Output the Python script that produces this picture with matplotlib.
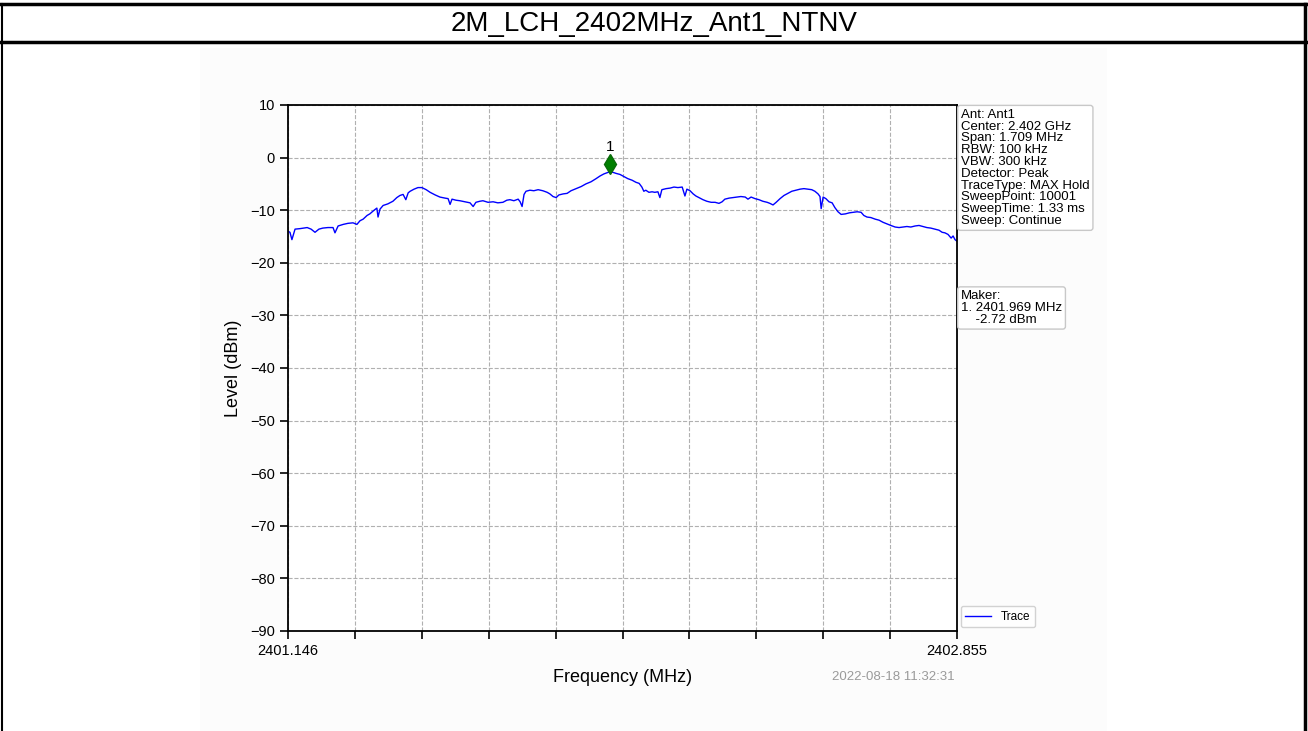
import matplotlib
matplotlib.use("Agg")
import matplotlib.pyplot as plt
import matplotlib.transforms as mtransforms
from matplotlib.patches import Rectangle
from matplotlib.lines import Line2D
import numpy as np

plt.rcParams['font.family'] = ['Liberation Sans', 'DejaVu Sans']

title = "2M_LCH_2402MHz_Ant1_NTNV"
f_start, f_stop = 2401.146, 2402.855

freq_mhz = [
    2401.146, 2401.151, 2401.156, 2401.164, 2401.177, 2401.195, 2401.205, 2401.215,
    2401.225, 2401.235, 2401.248, 2401.261, 2401.266, 2401.274, 2401.287, 2401.299,
    2401.312, 2401.322, 2401.330, 2401.338, 2401.348, 2401.355, 2401.366, 2401.373,
    2401.376, 2401.381, 2401.389, 2401.401, 2401.414, 2401.424, 2401.432, 2401.440,
    2401.447, 2401.453, 2401.458, 2401.468, 2401.478, 2401.488, 2401.499, 2401.509,
    2401.522, 2401.534, 2401.547, 2401.555, 2401.560, 2401.565, 2401.575, 2401.585,
    2401.598, 2401.611, 2401.619, 2401.626, 2401.636, 2401.644, 2401.657, 2401.670,
    2401.682, 2401.695, 2401.705, 2401.713, 2401.723, 2401.734, 2401.739, 2401.744,
    2401.749, 2401.754, 2401.764, 2401.774, 2401.785, 2401.797, 2401.808, 2401.815,
    2401.823, 2401.831, 2401.838, 2401.849, 2401.859, 2401.869, 2401.882, 2401.895,
    2401.907, 2401.920, 2401.933, 2401.943, 2401.953, 2401.964, 2401.969, 2401.976,
    2401.984, 2401.994, 2402.004, 2402.014, 2402.025, 2402.035, 2402.043, 2402.050,
    2402.055, 2402.060, 2402.068, 2402.076, 2402.083, 2402.091, 2402.096, 2402.101,
    2402.112, 2402.122, 2402.132, 2402.142, 2402.153, 2402.160, 2402.165, 2402.173,
    2402.181, 2402.188, 2402.198, 2402.206, 2402.216, 2402.227, 2402.237, 2402.247,
    2402.255, 2402.262, 2402.273, 2402.283, 2402.293, 2402.303, 2402.314, 2402.321,
    2402.329, 2402.339, 2402.349, 2402.359, 2402.370, 2402.377, 2402.385, 2402.393,
    2402.403, 2402.413, 2402.423, 2402.433, 2402.444, 2402.454, 2402.464, 2402.474,
    2402.484, 2402.492, 2402.500, 2402.505, 2402.508, 2402.513, 2402.520, 2402.528,
    2402.536, 2402.543, 2402.551, 2402.559, 2402.570, 2402.580, 2402.590, 2402.600,
    2402.610, 2402.617, 2402.625, 2402.635, 2402.646, 2402.656, 2402.666, 2402.676,
    2402.686, 2402.697, 2402.707, 2402.717, 2402.727, 2402.737, 2402.748, 2402.758,
    2402.768, 2402.778, 2402.788, 2402.799, 2402.809, 2402.817, 2402.824, 2402.832,
    2402.840, 2402.845, 2402.850, 2402.855,
]

level_dbm = [
    -14.0, -14.2, -15.6, -13.6, -13.5, -13.3, -13.6, -14.2,
    -13.6, -13.4, -13.3, -13.3, -14.3, -13.0, -12.7, -12.5,
    -12.4, -12.7, -12.0, -11.7, -11.0, -10.7, -10.0, -9.6,
    -11.3, -9.8, -9.1, -8.8, -8.3, -7.6, -7.2, -7.0,
    -8.0, -6.7, -6.4, -6.0, -5.7, -5.7, -6.1, -6.6,
    -7.1, -7.5, -7.7, -7.8, -8.9, -7.9, -8.1, -8.2,
    -8.4, -8.6, -9.3, -8.5, -8.3, -8.2, -8.5, -8.4,
    -8.6, -8.5, -8.1, -8.0, -8.2, -7.9, -8.4, -9.3,
    -7.0, -6.4, -6.2, -6.3, -6.1, -6.3, -6.6, -6.9,
    -7.4, -7.6, -7.1, -6.9, -6.8, -6.3, -5.9, -5.5,
    -5.0, -4.6, -4.0, -3.5, -3.1, -2.8, -2.72, -2.8,
    -3.0, -3.2, -3.6, -4.0, -4.3, -4.7, -4.9, -5.6,
    -6.4, -6.2, -6.6, -6.5, -6.6, -6.5, -7.6, -6.1,
    -5.9, -5.8, -5.6, -5.7, -5.6, -7.3, -6.0, -6.3,
    -6.9, -7.3, -7.7, -8.0, -8.3, -8.5, -8.5, -8.7,
    -8.4, -7.9, -7.7, -7.6, -7.5, -7.4, -7.5, -7.9,
    -7.5, -7.8, -8.0, -8.3, -8.5, -8.7, -9.0, -8.5,
    -7.8, -7.2, -6.8, -6.4, -6.2, -6.0, -5.9, -6.0,
    -6.1, -6.4, -6.9, -7.4, -9.7, -7.5, -7.8, -8.4,
    -8.6, -9.5, -10.3, -10.8, -10.7, -10.5, -10.4, -10.3,
    -10.4, -11.0, -11.3, -11.4, -11.7, -11.9, -12.3, -12.6,
    -12.9, -13.2, -13.3, -13.2, -13.1, -13.2, -13.0, -12.9,
    -13.1, -13.3, -13.4, -13.6, -13.8, -14.2, -14.3, -14.6,
    -15.3, -14.9, -15.6, -15.9,
]

marker_freq = 2401.969
marker_level = -2.72

info_lines = [
    "Ant: Ant1",
    "Center: 2.402 GHz",
    "Span: 1.709 MHz",
    "RBW: 100 kHz",
    "VBW: 300 kHz",
    "Detector: Peak",
    "TraceType: MAX Hold",
    "SweepPoint: 10001",
    "SweepTime: 1.33 ms",
    "Sweep: Continue",
]
marker_lines = ["Maker:", "1. 2401.969 MHz", "    -2.72 dBm"]
timestamp = "2022-08-18 11:32:31"

W, H = 1308, 731
fig = plt.figure(figsize=(W / 100, H / 100), dpi=100)
fig.patch.set_facecolor("white")


def fx(px):
    return px / W


def fy(py):
    return 1 - py / H


# report frame: title band, outer borders and the chart's panel
fig.add_artist(Rectangle((fx(200), 0), fx(1107) - fx(200), fy(48),
                         transform=fig.transFigure, facecolor="#fcfcfc",
                         edgecolor="none", zorder=0))
for y in (4, 42):
    fig.add_artist(Line2D([0, 1], [fy(y), fy(y)], transform=fig.transFigure,
                          color="black", lw=2.5))
fig.add_artist(Line2D([fx(1.5), fx(1.5)], [0, fy(4)], transform=fig.transFigure,
                      color="black", lw=1.5))
fig.add_artist(Line2D([fx(1305), fx(1305)], [0, fy(4)], transform=fig.transFigure,
                      color="black", lw=2.5))
fig.text(0.5, fy(24), title, ha="center", va="center", fontsize=20)

ax = fig.add_axes([fx(288), fy(631), fx(957) - fx(288), fy(105) - fy(631)])
ax.set_facecolor("white")
ax.plot(freq_mhz, level_dbm, color="blue", lw=1.0, label="Trace")

# peak marker drawn a few pixels above the trace point
offset = mtransforms.ScaledTranslation(0, 6 / 72, fig.dpi_scale_trans)
ax.plot([marker_freq], [marker_level], marker="d", color="green",
        markersize=10, markeredgecolor="#0a6a0a",
        transform=ax.transData + offset, zorder=5)
ax.annotate("1", (marker_freq, marker_level), xytext=(0, 13),
            textcoords="offset points", ha="center", va="bottom", fontsize=11)

ax.set_xlim(f_start, f_stop)
ax.set_ylim(-90, 10)
xt = np.linspace(f_start, f_stop, 11)
ax.set_xticks(xt)
ax.set_xticklabels([f"{f_start:.3f}"] + [""] * 9 + [f"{f_stop:.3f}"])
ax.set_yticks(np.arange(-90, 11, 10))
ax.tick_params(axis="both", labelsize=10.5, length=6, width=1.2, direction="out")
ax.grid(True, linestyle="--", color="#b0b0b0", lw=0.8)
for s in ax.spines.values():
    s.set_linewidth(1.3)
ax.set_xlabel("Frequency (MHz)", fontsize=13, labelpad=8)
ax.set_ylabel("Level (dBm)", fontsize=13, labelpad=6)

box = dict(boxstyle="round,pad=0.25,rounding_size=0.2", facecolor="white",
           edgecolor="#c8c8c8", lw=1)
ax.text(1.006, 0.993, "\n".join(info_lines), transform=ax.transAxes,
        ha="left", va="top", fontsize=9.5, linespacing=0.98, bbox=box)
ax.text(1.006, 0.648, "\n".join(marker_lines), transform=ax.transAxes,
        ha="left", va="top", fontsize=9.5, linespacing=0.98, bbox=box)

leg = ax.legend(loc="lower left", bbox_to_anchor=(1.0, 0.0), fontsize=8.5,
                frameon=True, handlelength=2.2, borderaxespad=0.3)
leg.get_frame().set_edgecolor("#c8c8c8")

fig.text(fx(955), fy(677), timestamp, ha="right", va="center",
         fontsize=9.5, color="#9a9a9a")

fig.savefig("out.png", dpi=100, facecolor=fig.get_facecolor())
